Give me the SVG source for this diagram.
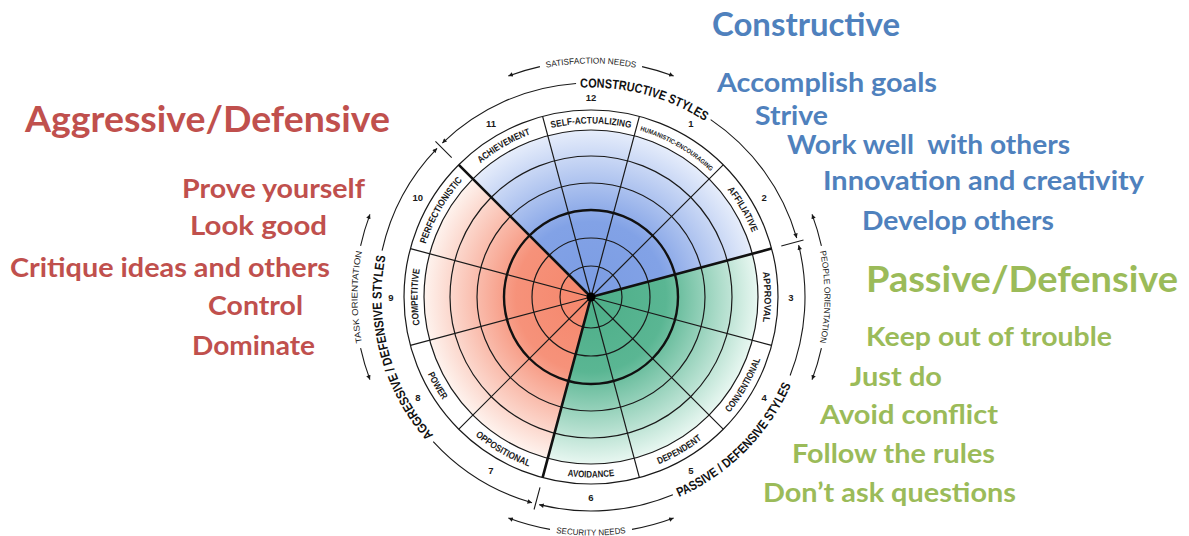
<svg xmlns="http://www.w3.org/2000/svg" width="1189" height="536" viewBox="0 0 1189 536">
<style>
.ln{fill:none;stroke:#1a1a1a;stroke-width:1.2}
.thk{fill:none;stroke:#111;stroke-width:2.6}
.arc{fill:none;stroke:#1a1a1a;stroke-width:1.1}
.lbl{font-family:"Liberation Sans",Arial,sans-serif;font-size:9.5px;font-weight:bold;fill:#1a1a1a}
.num{font-family:"Liberation Sans",Arial,sans-serif;font-size:9.5px;font-weight:bold;fill:#1a1a1a;text-anchor:middle;dominant-baseline:central}
.sty{font-family:"Liberation Sans",Arial,sans-serif;font-size:13px;font-weight:bold;fill:#111}
.out{font-family:"Liberation Sans",Arial,sans-serif;font-size:8.5px;fill:#1a1a1a}
.big{font-family:Lato,"Open Sans",sans-serif;font-weight:bold}
.red{fill:#c0504d}
.blue{fill:#4f81bd}
.green{fill:#9bbb59}
</style>
<defs>
<marker id="arr" viewBox="0 0 10 10" refX="10" refY="5" markerWidth="6" markerHeight="4.5" markerUnits="userSpaceOnUse" orient="auto">
<path d="M0,0 L10,5 L0,10 Z" fill="#1a1a1a"/>
</marker>
<radialGradient id="gB" gradientUnits="userSpaceOnUse" cx="591" cy="297" r="167">
<stop offset="0" stop-color="#7b9ce3"/><stop offset="0.45" stop-color="#82a2e6"/><stop offset="1" stop-color="#e6edfb"/>
</radialGradient>
<radialGradient id="gO" gradientUnits="userSpaceOnUse" cx="591" cy="297" r="167">
<stop offset="0" stop-color="#f5866b"/><stop offset="0.45" stop-color="#f6927a"/><stop offset="1" stop-color="#fef3ee"/>
</radialGradient>
<radialGradient id="gG" gradientUnits="userSpaceOnUse" cx="591" cy="297" r="167">
<stop offset="0" stop-color="#4dae88"/><stop offset="0.45" stop-color="#5ab693"/><stop offset="1" stop-color="#e8f7f1"/>
</radialGradient>
<!-- label ring paths: outward (clockwise) r=173.5 -->
<path id="pS3" d="M758.6,252.1 A173.5,173.5 0 0 1 758.6,341.9"/>
<path id="pS2" d="M713.7,174.3 A173.5,173.5 0 0 1 758.6,252.1"/>
<path id="pS1" d="M635.9,129.4 A173.5,173.5 0 0 1 713.7,174.3"/>
<path id="pS12" d="M546.1,129.4 A173.5,173.5 0 0 1 635.9,129.4"/>
<path id="pS11" d="M468.3,174.3 A173.5,173.5 0 0 1 546.1,129.4"/>
<path id="pS10" d="M423.4,252.1 A173.5,173.5 0 0 1 468.3,174.3"/>
<path id="pS9" d="M423.4,341.9 A173.5,173.5 0 0 1 423.4,252.1"/>
<!-- inward (counterclockwise) r=180.5 -->
<path id="pS8" d="M416.7,343.7 A180.5,180.5 0 0 0 463.4,424.6"/>
<path id="pS7" d="M463.4,424.6 A180.5,180.5 0 0 0 544.3,471.3"/>
<path id="pS6" d="M544.3,471.3 A180.5,180.5 0 0 0 637.7,471.3"/>
<path id="pS5" d="M637.7,471.3 A180.5,180.5 0 0 0 718.6,424.6"/>
<path id="pS4" d="M718.6,424.6 A180.5,180.5 0 0 0 765.3,343.7"/>
<!-- style label paths -->
<path id="pCon" d="M536.78,94.64 A209.5,209.5 0 0 1 739.14,148.86"/>
<path id="pAgg" d="M442.86,445.14 A209.5,209.5 0 0 1 388.64,242.78"/>
<path id="pPas" d="M647.55,508.06 A218.5,218.5 0 0 0 802.06,353.55"/>
<!-- outer labels -->
<path id="pTop" d="M511.14,77.58 A233.5,233.5 0 0 1 670.86,77.58"/>
<path id="pRight" d="M810.42,217.14 A233.5,233.5 0 0 1 810.42,376.86"/>
<path id="pLeft" d="M371.58,376.86 A233.5,233.5 0 0 1 371.58,217.14"/>
<path id="pBot" d="M509.43,521.12 A238.5,238.5 0 0 0 672.57,521.12"/>
</defs>
<rect x="0" y="0" width="1189" height="536" fill="#ffffff"/>

<g id="circumplex">
<g id="sectors">
<circle cx="591" cy="297" r="187" fill="#ffffff"/>
<path id="wedge-constructive" d="M591,297 L752.3,253.8 A167,167 0 0 0 472.9,178.9 Z" fill="url(#gB)"/>
<path id="wedge-aggressive" d="M591,297 L472.9,178.9 A167,167 0 0 0 547.8,458.3 Z" fill="url(#gO)"/>
<path id="wedge-passive" d="M591,297 L547.8,458.3 A167,167 0 0 0 752.3,253.8 Z" fill="url(#gG)"/>
</g>
<g id="grid">
<circle class="ln" cx="591" cy="297" r="31"/>
<circle class="ln" cx="591" cy="297" r="59"/>
<circle class="ln" cx="591" cy="297" r="114"/>
<circle class="ln" cx="591" cy="297" r="141"/>
<circle class="ln" cx="591" cy="297" r="167"/>
<circle class="ln" cx="591" cy="297" r="187"/>
<path class="ln" d="M591,297 L723.2,164.8 M591,297 L639.4,116.4 M591,297 L542.6,116.4 M591,297 L410.4,248.6 M591,297 L410.4,345.4 M591,297 L458.8,429.2 M591,297 L639.4,477.6 M591,297 L723.2,429.2 M591,297 L771.6,345.4"/>
<circle cx="591" cy="297" r="87" fill="none" stroke="#111" stroke-width="2.4"/>
<path class="thk" d="M591,297 L771.6,248.6 M591,297 L458.8,164.8 M591,297 L542.6,477.6"/>
<circle cx="591" cy="297" r="4.5" fill="#000"/>
</g>
<g id="style-labels">
<text class="lbl"><textPath href="#pS3" startOffset="50%" text-anchor="middle" textLength="50" lengthAdjust="spacingAndGlyphs">APPROVAL</textPath></text>
<text class="lbl"><textPath href="#pS2" startOffset="50%" text-anchor="middle" textLength="50" lengthAdjust="spacingAndGlyphs">AFFILIATIVE</textPath></text>
<text class="lbl" style="font-size:6.5px"><textPath href="#pS1" startOffset="50%" text-anchor="middle" textLength="82" lengthAdjust="spacingAndGlyphs">HUMANISTIC-ENCOURAGING</textPath></text>
<text class="lbl"><textPath href="#pS12" startOffset="50%" text-anchor="middle" textLength="80" lengthAdjust="spacingAndGlyphs">SELF-ACTUALIZING</textPath></text>
<text class="lbl"><textPath href="#pS11" startOffset="50%" text-anchor="middle" textLength="58" lengthAdjust="spacingAndGlyphs">ACHIEVEMENT</textPath></text>
<text class="lbl"><textPath href="#pS10" startOffset="50%" text-anchor="middle" textLength="74" lengthAdjust="spacingAndGlyphs">PERFECTIONISTIC</textPath></text>
<text class="lbl"><textPath href="#pS9" startOffset="50%" text-anchor="middle" textLength="56" lengthAdjust="spacingAndGlyphs">COMPETITIVE</textPath></text>
<text class="lbl"><textPath href="#pS8" startOffset="50%" text-anchor="middle" textLength="30" lengthAdjust="spacingAndGlyphs">POWER</textPath></text>
<text class="lbl"><textPath href="#pS7" startOffset="50%" text-anchor="middle" textLength="62" lengthAdjust="spacingAndGlyphs">OPPOSITIONAL</textPath></text>
<text class="lbl"><textPath href="#pS6" startOffset="50%" text-anchor="middle" textLength="47" lengthAdjust="spacingAndGlyphs">AVOIDANCE</textPath></text>
<text class="lbl"><textPath href="#pS5" startOffset="50%" text-anchor="middle" textLength="50" lengthAdjust="spacingAndGlyphs">DEPENDENT</textPath></text>
<text class="lbl"><textPath href="#pS4" startOffset="50%" text-anchor="middle" textLength="62" lengthAdjust="spacingAndGlyphs">CONVENTIONAL</textPath></text>
</g>
<g id="numbers">
<text class="num" x="791" y="297">3</text>
<text class="num" x="764.2" y="197">2</text>
<text class="num" x="691" y="123.8">1</text>
<text class="num" x="591" y="97">12</text>
<text class="num" x="491" y="123.8">11</text>
<text class="num" x="417.8" y="197">10</text>
<text class="num" x="391" y="297">9</text>
<text class="num" x="417.8" y="397">8</text>
<text class="num" x="491" y="470.2">7</text>
<text class="num" x="591" y="497">6</text>
<text class="num" x="691" y="470.2">5</text>
<text class="num" x="764.2" y="397">4</text>
</g>
<g id="style-group-labels">
<text class="sty"><textPath href="#pCon" startOffset="50%" text-anchor="middle" textLength="131" lengthAdjust="spacingAndGlyphs">CONSTRUCTIVE STYLES</textPath></text>
<text class="sty"><textPath href="#pAgg" startOffset="50%" text-anchor="middle" textLength="192" lengthAdjust="spacingAndGlyphs">AGGRESSIVE / DEFENSIVE STYLES</textPath></text>
<text class="sty"><textPath href="#pPas" startOffset="50%" text-anchor="middle" textLength="162" lengthAdjust="spacingAndGlyphs">PASSIVE / DEFENSIVE STYLES</textPath></text>
</g>
<g id="outer-labels">
<text class="out"><textPath href="#pTop" startOffset="50%" text-anchor="middle" textLength="90" lengthAdjust="spacingAndGlyphs">SATISFACTION NEEDS</textPath></text>
<text class="out"><textPath href="#pRight" startOffset="50%" text-anchor="middle" textLength="92" lengthAdjust="spacingAndGlyphs">PEOPLE ORIENTATION</textPath></text>
<text class="out"><textPath href="#pLeft" startOffset="50%" text-anchor="middle" textLength="92" lengthAdjust="spacingAndGlyphs">TASK ORIENTATION</textPath></text>
<text class="out"><textPath href="#pBot" startOffset="50%" text-anchor="middle" textLength="70" lengthAdjust="spacingAndGlyphs">SECURITY NEEDS</textPath></text>
</g>
</g>

<g id="connectors">
<path class="arc" d="M576.07,83.52 A214,214 0 0 0 442.34,143.06" marker-end="url(#arr)"/>
<path class="arc" d="M710.67,119.59 A214,214 0 0 1 796.71,238.01" marker-end="url(#arr)"/>
<path class="arc" d="M790.11,375.43 A214,214 0 0 0 798.64,245.23" marker-end="url(#arr)"/>
<path class="arc" d="M672.89,494.71 A214,214 0 0 1 539.23,504.64" marker-end="url(#arr)"/>
<path class="arc" d="M433.22,441.58 A214,214 0 0 0 532.01,502.71" marker-end="url(#arr)"/>
<path class="arc" d="M382.07,250.68 A214,214 0 0 1 437.06,148.34" marker-end="url(#arr)"/>
<path class="arc" d="M781.29,246.01 L803.5,240.06 M451.7,157.7 L435.44,141.44 M540.01,487.29 L534.06,509.5"/>
<path class="arc" d="M539.92,66.59 A236,236 0 0 0 508.35,75.95" marker-end="url(#arr)"/>
<path class="arc" d="M642.08,66.59 A236,236 0 0 1 673.65,75.95" marker-end="url(#arr)"/>
<path class="arc" d="M821.41,245.92 A236,236 0 0 0 812.05,214.35" marker-end="url(#arr)"/>
<path class="arc" d="M821.41,348.08 A236,236 0 0 1 812.05,379.65" marker-end="url(#arr)"/>
<path class="arc" d="M360.59,245.92 A236,236 0 0 1 369.95,214.35" marker-end="url(#arr)"/>
<path class="arc" d="M360.59,348.08 A236,236 0 0 0 369.95,379.65" marker-end="url(#arr)"/>
<path class="arc" d="M550.02,529.41 A236,236 0 0 1 508.35,518.05" marker-end="url(#arr)"/>
<path class="arc" d="M631.98,529.41 A236,236 0 0 0 673.65,518.05" marker-end="url(#arr)"/>
</g>

<g id="aggressive-text" class="big red">
<text x="25" y="132" font-size="37" textLength="365" lengthAdjust="spacingAndGlyphs">Aggressive/Defensive</text>
<text x="182" y="198" font-size="26" textLength="183" lengthAdjust="spacingAndGlyphs">Prove yourself</text>
<text x="190" y="235" font-size="26" textLength="137" lengthAdjust="spacingAndGlyphs">Look good</text>
<text x="10" y="277" font-size="26" textLength="320" lengthAdjust="spacingAndGlyphs">Critique ideas and others</text>
<text x="208" y="315" font-size="26" textLength="95" lengthAdjust="spacingAndGlyphs">Control</text>
<text x="192" y="355" font-size="26" textLength="123" lengthAdjust="spacingAndGlyphs">Dominate</text>
</g>
<g id="constructive-text" class="big blue">
<text x="712" y="36" font-size="32" textLength="188" lengthAdjust="spacingAndGlyphs">Constructive</text>
<text x="717" y="92" font-size="26" textLength="220" lengthAdjust="spacingAndGlyphs">Accomplish goals</text>
<text x="755" y="125" font-size="26" textLength="73" lengthAdjust="spacingAndGlyphs">Strive</text>
<text x="787" y="154" font-size="26" textLength="283" lengthAdjust="spacingAndGlyphs" xml:space="preserve">Work well  with others</text>
<text x="823" y="190" font-size="26" textLength="321" lengthAdjust="spacingAndGlyphs">Innovation and creativity</text>
<text x="862" y="230" font-size="26" textLength="192" lengthAdjust="spacingAndGlyphs">Develop others</text>
</g>
<g id="passive-text" class="big green">
<text x="866" y="292" font-size="36" textLength="312" lengthAdjust="spacingAndGlyphs">Passive/Defensive</text>
<text x="866" y="346" font-size="26" textLength="246" lengthAdjust="spacingAndGlyphs">Keep out of trouble</text>
<text x="850" y="386" font-size="26" textLength="92" lengthAdjust="spacingAndGlyphs">Just do</text>
<text x="820" y="424" font-size="26" textLength="178" lengthAdjust="spacingAndGlyphs">Avoid conflict</text>
<text x="792" y="463" font-size="26" textLength="203" lengthAdjust="spacingAndGlyphs">Follow the rules</text>
<text x="763" y="502" font-size="26" textLength="253" lengthAdjust="spacingAndGlyphs">Don’t ask questions</text>
</g>
</svg>
